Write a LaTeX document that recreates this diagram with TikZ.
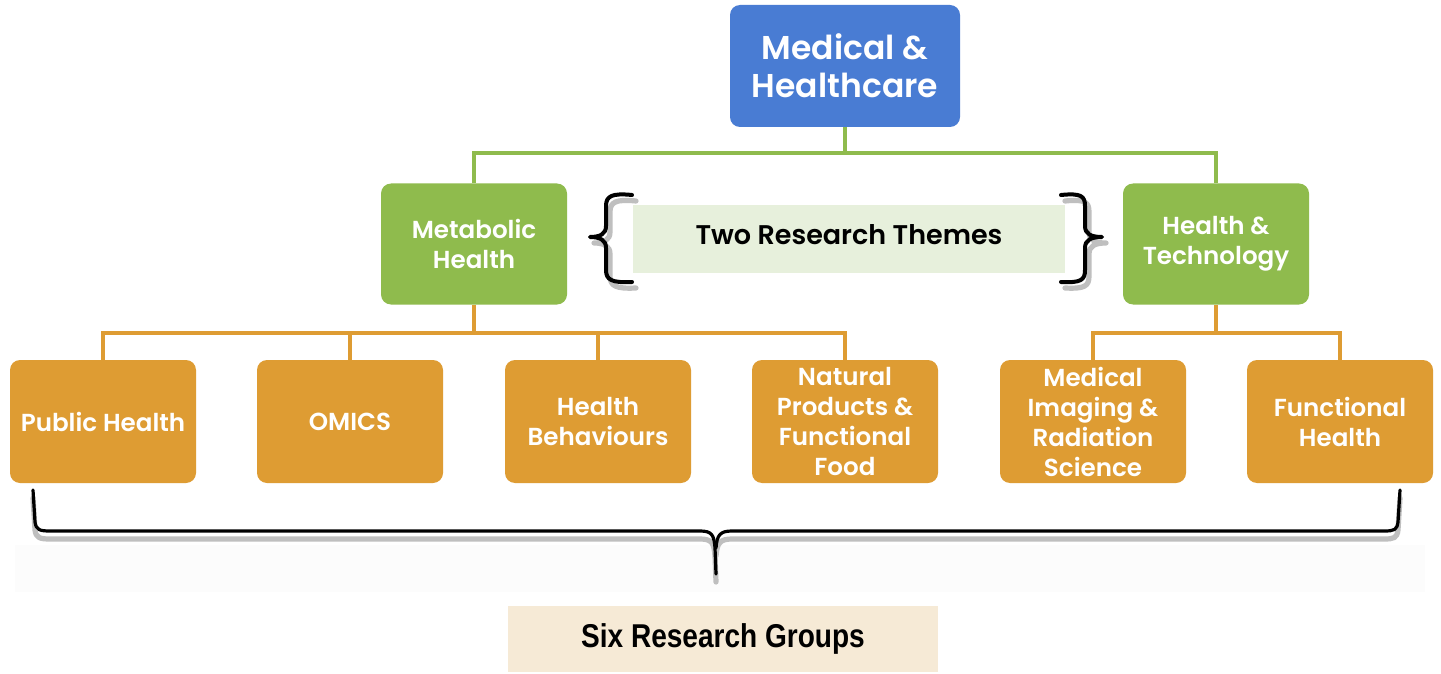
\documentclass[tikz,border=0pt]{standalone}
\usepackage{fontspec}
\setmainfont{Poppins}[BoldFont={Poppins SemiBold}]
\newfontfamily\narrowfont{Liberation Sans}
\definecolor{cblue}{HTML}{497CD3}
\definecolor{cgreen}{HTML}{8FBB4D}
\definecolor{corange}{HTML}{DE9C33}
\definecolor{lgreen}{HTML}{E7F0DC}
\definecolor{lorange}{HTML}{F6EAD6}
\begin{document}
\begin{tikzpicture}[x=0.5pt,y=-0.5pt,
  box/.style={rounded corners=5pt,text=white,align=center,font=\fontsize{12.3}{15}\selectfont\bfseries,inner sep=0pt,minimum width=93pt,minimum height=61.5pt},
  bluebox/.style={box,fill=cblue,minimum width=115pt,minimum height=61pt,font=\fontsize{16.5}{19}\selectfont\bfseries},
  greenbox/.style={box,fill=cgreen,minimum height=60.5pt},
  orangebox/.style={box,fill=corange},
  gline/.style={cgreen,line width=1.6pt},
  oline/.style={corange,line width=1.6pt},
  brace/.style={black,line width=2pt,line cap=round,line join=round},
  braceshadow/.style={black!25,line width=2.6pt,line cap=round,line join=round},
]
\useasboundingbox (0,0) rectangle (1441,674);
\fill[white] (0,0) rectangle (1441,674);
\fill[black!1] (15,545) rectangle (1425,592);

% top
\node[bluebox] (top) at (845,66) {Medical \&\\Healthcare};
% themes
\node[greenbox] (meta) at (474,244) {Metabolic\\Health};
\node[greenbox] (tech) at (1216,244) {Health \&\\Technology};
% groups
\node[orangebox] (g1) at (103,421.5) {Public Health};
\node[orangebox] (g2) at (350,421.5) {OMICS};
\node[orangebox] (g3) at (598,421.5) {Health\\Behaviours};
\node[orangebox] (g4) at (845,421.5) {Natural\\Products \&\\Functional\\Food};
\node[orangebox] (g5) at (1093,421.5) {Medical\\Imaging \&\\Radiation\\Science};
\node[orangebox] (g6) at (1340,421.5) {Functional\\Health};

% labels
\node[fill=lgreen,minimum width=216pt,minimum height=34pt,inner sep=0pt] (themes) at (849,239) {};
\node[font=\fontsize{13.5}{16}\selectfont\bfseries,inner sep=0pt] (themestext) at (849,235) {Two Research Themes};
\node[fill=lorange,minimum width=215pt,minimum height=33pt,inner sep=0pt] (groups) at (723,639) {\narrowfont\bfseries\fontsize{16.5}{18}\selectfont\scalebox{0.85}[1]{Six Research Groups}};

% connectors
\coordinate (tj) at (845,153);
\draw[gline] (top.south) -- (tj);
\draw[gline] (meta.north) |- (tj) -| (tech.north);
\coordinate (mj) at (474,333);
\draw[oline] (meta.south) -- (mj);
\draw[oline] (g1.north) |- (mj) -| (g4.north);
\draw[oline] (g2.north) -- (g2.north |- mj);
\draw[oline] (g3.north) -- (g3.north |- mj);
\coordinate (hj) at (1216,333);
\draw[oline] (tech.south) -- (hj);
\draw[oline] (g5.north) |- (hj) -| (g6.north);

% brackets around themes
\draw[braceshadow,xshift=2pt,yshift=-3pt] (632,195) .. controls (612,193) and (606,196) .. (606,206) -- (606,226) .. controls (606,234) and (600,237) .. (590,237) .. controls (600,237) and (606,240) .. (606,248) -- (606,270) .. controls (606,280) and (612,283) .. (632,282);
\draw[brace] (632,195) .. controls (612,193) and (606,196) .. (606,206) -- (606,226) .. controls (606,234) and (600,237) .. (590,237) .. controls (600,237) and (606,240) .. (606,248) -- (606,270) .. controls (606,280) and (612,283) .. (632,282);
\draw[braceshadow,xshift=2pt,yshift=-3pt] (1061,195) .. controls (1081,193) and (1085,196) .. (1085,206) -- (1085,226) .. controls (1085,234) and (1091,237) .. (1102,237) .. controls (1091,237) and (1085,240) .. (1085,248) -- (1085,270) .. controls (1085,280) and (1081,283) .. (1061,282);
\draw[brace] (1061,195) .. controls (1081,193) and (1085,196) .. (1085,206) -- (1085,226) .. controls (1085,234) and (1091,237) .. (1102,237) .. controls (1091,237) and (1085,240) .. (1085,248) -- (1085,270) .. controls (1085,280) and (1081,283) .. (1061,282);

% big brace under groups
\draw[braceshadow,yshift=-4pt] (33,490) -- (35,522) .. controls (36,530) and (40,531) .. (50,531) -- (700,531) .. controls (712,531) and (714,535) .. (715,548) -- (716,574);
\draw[braceshadow,yshift=-4pt] (716,548) .. controls (717,535) and (720,531) .. (732,531) -- (1384,531) .. controls (1394,531) and (1397,530) .. (1398,522) -- (1400,490);
\draw[brace,line width=1.6pt] (33,490) -- (35,522) .. controls (36,530) and (40,531) .. (50,531) -- (700,531) .. controls (712,531) and (714,535) .. (715,548) -- (716,574);
\draw[brace,line width=1.6pt] (716,548) .. controls (717,535) and (720,531) .. (732,531) -- (1384,531) .. controls (1394,531) and (1397,530) .. (1398,522) -- (1400,490);
\end{tikzpicture}
\end{document}
